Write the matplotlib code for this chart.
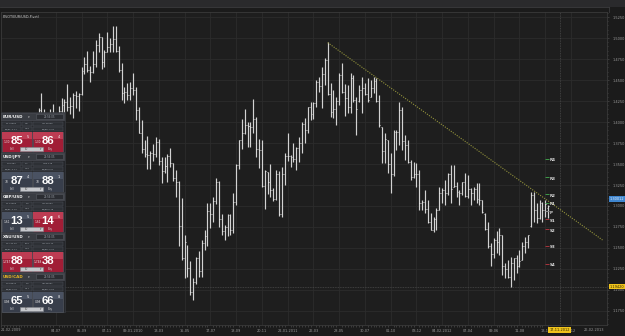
import matplotlib
matplotlib.use("Agg")
import matplotlib.pyplot as plt
import matplotlib.dates as mdates
import matplotlib.transforms as mtransforms
from matplotlib.patches import Rectangle
from matplotlib.ticker import MultipleLocator
import pandas as pd

W, H = 625, 336

# weekly EUR/USD bars (open, high, low, close); weeks are labelled by their Saturday
first_week = "2009-02-21"
ohlc_2009 = [
    (1.2650, 1.2840, 1.2640, 1.2670), (1.2670, 1.2720, 1.2460, 1.2660), (1.2660, 1.3040, 1.2660, 1.2940),
    (1.2940, 1.3740, 1.2880, 1.3580), (1.3580, 1.3740, 1.3250, 1.3280), (1.3280, 1.3560, 1.3110, 1.3500),
    (1.3500, 1.3500, 1.3120, 1.3200), (1.3200, 1.3370, 1.3000, 1.3030), (1.3030, 1.3280, 1.2890, 1.3250),
    (1.3250, 1.3400, 1.3050, 1.3270), (1.3270, 1.3650, 1.3210, 1.3630), (1.3630, 1.3740, 1.3480, 1.3500),
    (1.3500, 1.4050, 1.3460, 1.3990), (1.3990, 1.4170, 1.3810, 1.4140), (1.4140, 1.4340, 1.3990, 1.4040),
    (1.4040, 1.4150, 1.3750, 1.3990), (1.3990, 1.4050, 1.3780, 1.4000), (1.4000, 1.4150, 1.3840, 1.4040),
    (1.4040, 1.4210, 1.3920, 1.3960), (1.3960, 1.4070, 1.3840, 1.3940), (1.3940, 1.4190, 1.3850, 1.4130),
    (1.4130, 1.4290, 1.4110, 1.4200), (1.4200, 1.4270, 1.4010, 1.4240), (1.4240, 1.4450, 1.4130, 1.4180),
    (1.4180, 1.4300, 1.4100, 1.4190), (1.4190, 1.4340, 1.4050, 1.4320), (1.4320, 1.4370, 1.4170, 1.4310),
    (1.4310, 1.4350, 1.4130, 1.4330), (1.4330, 1.4650, 1.4320, 1.4610), (1.4610, 1.4780, 1.4570, 1.4690),
    (1.4690, 1.4840, 1.4590, 1.4620), (1.4620, 1.4670, 1.4480, 1.4590), (1.4590, 1.4840, 1.4580, 1.4690),
    (1.4690, 1.4980, 1.4660, 1.4920), (1.4920, 1.5060, 1.4830, 1.5010), (1.5010, 1.5010, 1.4630, 1.4710),
    (1.4710, 1.4860, 1.4650, 1.4830), (1.4830, 1.5070, 1.4830, 1.4890), (1.4890, 1.5000, 1.4830, 1.4930),
    (1.4930, 1.5145, 1.4830, 1.4990), (1.4990, 1.5144, 1.4830, 1.4850), (1.4850, 1.4900, 1.4595, 1.4620),
    (1.4620, 1.4700, 1.4260, 1.4340), (1.4340, 1.4420, 1.4225, 1.4360), (1.4360, 1.4465, 1.4260, 1.4320),
]
ohlc_2010 = [
    (1.4320, 1.4475, 1.4260, 1.4410), (1.4410, 1.4585, 1.4320, 1.4380), (1.4380, 1.4420, 1.4025, 1.4140),
    (1.4140, 1.4180, 1.3870, 1.3870), (1.3870, 1.4025, 1.3630, 1.3680), (1.3680, 1.3790, 1.3580, 1.3620),
    (1.3620, 1.3830, 1.3440, 1.3610), (1.3610, 1.3650, 1.3440, 1.3630), (1.3630, 1.3740, 1.3530, 1.3620),
    (1.3620, 1.3820, 1.3580, 1.3760), (1.3760, 1.3800, 1.3490, 1.3530), (1.3530, 1.3580, 1.3270, 1.3420),
    (1.3420, 1.3580, 1.3390, 1.3480), (1.3480, 1.3620, 1.3290, 1.3600), (1.3600, 1.3690, 1.3460, 1.3510),
    (1.3510, 1.3510, 1.3300, 1.3330), (1.3330, 1.3430, 1.3110, 1.3290), (1.3290, 1.3300, 1.2520, 1.2760),
    (1.2760, 1.3090, 1.2360, 1.2380), (1.2380, 1.2660, 1.2140, 1.2570), (1.2490, 1.2530, 1.2150, 1.2260),
    (1.2260, 1.2340, 1.1940, 1.1970), (1.1970, 1.2140, 1.1876, 1.2100), (1.2100, 1.2390, 1.2070, 1.2380),
    (1.2380, 1.2460, 1.2150, 1.2230), (1.2230, 1.2600, 1.2150, 1.2560), (1.2560, 1.2720, 1.2480, 1.2640),
    (1.2640, 1.3030, 1.2520, 1.2940), (1.2940, 1.3040, 1.2740, 1.2900), (1.2900, 1.3110, 1.2810, 1.3060),
    (1.3060, 1.3330, 1.3020, 1.3280), (1.3280, 1.3300, 1.2750, 1.2840), (1.2840, 1.2910, 1.2660, 1.2700),
    (1.2700, 1.2770, 1.2600, 1.2750), (1.2750, 1.2900, 1.2640, 1.2890), (1.2890, 1.2910, 1.2660, 1.2710),
    (1.2710, 1.3160, 1.2680, 1.3050), (1.3050, 1.3500, 1.3010, 1.3490), (1.3490, 1.3790, 1.3440, 1.3780),
    (1.3780, 1.4030, 1.3680, 1.3870), (1.3870, 1.4160, 1.3860, 1.3970), (1.3970, 1.4000, 1.3700, 1.3950),
    (1.3950, 1.4000, 1.3700, 1.3940), (1.3940, 1.4280, 1.3870, 1.4030), (1.4030, 1.4060, 1.3580, 1.3680),
    (1.3680, 1.3800, 1.3450, 1.3670), (1.3670, 1.3780, 1.3230, 1.3240), (1.3240, 1.3430, 1.2970, 1.3420),
    (1.3400, 1.3400, 1.3140, 1.3290), (1.3290, 1.3500, 1.3110, 1.3190), (1.3190, 1.3220, 1.3060, 1.3080),
    (1.3080, 1.3430, 1.3070, 1.3380),
]
ohlc_2011 = [
    (1.3380, 1.3420, 1.2880, 1.2910), (1.2910, 1.3460, 1.2870, 1.3380), (1.3380, 1.3630, 1.3250, 1.3600),
    (1.3600, 1.3870, 1.3530, 1.3590), (1.3590, 1.3610, 1.3460, 1.3580), (1.3580, 1.3750, 1.3520, 1.3560),
    (1.3560, 1.3700, 1.3430, 1.3690), (1.3690, 1.3820, 1.3520, 1.3750), (1.3750, 1.4000, 1.3630, 1.3980),
    (1.3980, 1.4050, 1.3750, 1.3910), (1.3910, 1.4180, 1.3870, 1.4180), (1.4180, 1.4240, 1.4020, 1.4090),
    (1.4090, 1.4240, 1.4030, 1.4230), (1.4230, 1.4500, 1.4180, 1.4480), (1.4480, 1.4540, 1.4360, 1.4430),
    (1.4430, 1.4650, 1.4170, 1.4570), (1.4570, 1.4760, 1.4440, 1.4740), (1.4740, 1.4950, 1.4320, 1.4330),
    (1.4330, 1.4460, 1.4060, 1.4120), (1.4120, 1.4380, 1.4050, 1.4150), (1.4150, 1.4300, 1.3970, 1.4250),
    (1.4250, 1.4580, 1.4200, 1.4560), (1.4560, 1.4700, 1.4350, 1.4360), (1.4360, 1.4450, 1.4070, 1.4290),
    (1.4290, 1.4440, 1.4110, 1.4180), (1.4180, 1.4580, 1.4110, 1.4520), (1.4520, 1.4560, 1.4240, 1.4260),
    (1.4260, 1.4300, 1.3850, 1.4150), (1.4250, 1.4440, 1.4240, 1.4380), (1.4380, 1.4540, 1.4110, 1.4400),
    (1.4400, 1.4460, 1.4320, 1.4330), (1.4330, 1.4520, 1.4240, 1.4260), (1.4300, 1.4500, 1.4300, 1.4400),
    (1.4400, 1.4540, 1.4350, 1.4490), (1.4490, 1.4520, 1.4240, 1.4250), (1.4250, 1.4320, 1.3940, 1.3960),
    (1.3940, 1.3940, 1.3512, 1.3650), (1.3650, 1.3870, 1.3510, 1.3800), (1.3780, 1.3790, 1.3390, 1.3500),
    (1.3500, 1.3630, 1.3155, 1.3380), (1.3380, 1.3905, 1.3360, 1.3880), (1.3880, 1.3905, 1.3667, 1.3880),
    (1.3880, 1.4238, 1.3726, 1.4140), (1.4140, 1.4179, 1.3667, 1.3770), (1.3770, 1.3845, 1.3548, 1.3730),
    (1.3730, 1.3786, 1.3512, 1.3520), (1.3520, 1.3548, 1.3310, 1.3340), (1.3340, 1.3524, 1.3333, 1.3380),
    (1.3380, 1.3512, 1.3226, 1.3380), (1.3380, 1.3429, 1.2952, 1.3040), (1.3040, 1.3071, 1.2952, 1.3050),
    (1.3050, 1.3190, 1.2917, 1.2960),
]
ohlc_2012 = [
    (1.2960, 1.3071, 1.2798, 1.2810), (1.2810, 1.2917, 1.2714, 1.2720), (1.2720, 1.2869, 1.2690, 1.2840),
    (1.2840, 1.2976, 1.2714, 1.2950), (1.2950, 1.3226, 1.2952, 1.3150), (1.3150, 1.3214, 1.3036, 1.3190),
    (1.3190, 1.3310, 1.3012, 1.3150), (1.3150, 1.3393, 1.3131, 1.3380), (1.3380, 1.3488, 1.3036, 1.3200),
    (1.3230, 1.3488, 1.3226, 1.3240), (1.3240, 1.3286, 1.3107, 1.3170), (1.3170, 1.3190, 1.3012, 1.3150),
    (1.3150, 1.3286, 1.3131, 1.3280), (1.3280, 1.3393, 1.3107, 1.3120), (1.3120, 1.3369, 1.3095, 1.3200),
    (1.3200, 1.3214, 1.3012, 1.3150), (1.3150, 1.3226, 1.3071, 1.3200), (1.3200, 1.3274, 1.3036, 1.3080),
    (1.3080, 1.3274, 1.3012, 1.3070), (1.3070, 1.3071, 1.2917, 1.2930), (1.2910, 1.2917, 1.2714, 1.2730),
    (1.2730, 1.2810, 1.2500, 1.2520), (1.2520, 1.2560, 1.2290, 1.2430), (1.2430, 1.2620, 1.2380, 1.2590),
    (1.2590, 1.2700, 1.2440, 1.2570), (1.2570, 1.2740, 1.2420, 1.2660), (1.2650, 1.2655, 1.2179, 1.2290),
    (1.2290, 1.2321, 1.2143, 1.2250), (1.2250, 1.2357, 1.2143, 1.2160), (1.2160, 1.2393, 1.2036, 1.2320),
    (1.2320, 1.2381, 1.2119, 1.2380), (1.2380, 1.2417, 1.2202, 1.2290), (1.2290, 1.2476, 1.2274, 1.2340),
    (1.2360, 1.2571, 1.2357, 1.2520), (1.2520, 1.2631, 1.2440, 1.2570), (1.2570, 1.2655, 1.2500, 1.2650),
    (1.2760, 1.3167, 1.2750, 1.3130), (1.3130, 1.3167, 1.2810, 1.2950), (1.2950, 1.3036, 1.2798, 1.2860),
    (1.2860, 1.3071, 1.2850, 1.3030), (1.3030, 1.3048, 1.2810, 1.2950), (1.2950, 1.3071, 1.2869, 1.3020),
    (1.2980, 1.3010, 1.2857, 1.3001),
]

tick_dates = ["2009-07-04", "2009-09-05", "2009-11-07", "2010-01-09", "2010-03-13", "2010-05-15",
              "2010-07-17", "2010-09-18", "2010-11-20", "2011-01-22", "2011-03-26", "2011-05-28",
              "2011-07-30", "2011-10-01", "2011-12-03", "2012-02-04", "2012-04-07", "2012-06-09",
              "2012-08-11", "2012-10-13", "2012-12-15"]
tick_labels = ["04-07", "05-09", "07-11", "09-01-2010", "13-03", "15-05", "17-07", "18-09", "20-11",
               "22-01-2011", "26-03", "28-05", "30-07", "01-10", "03-12", "04-02-2012", "07-04",
               "09-06", "11-08", "13-10", "15-12"]
edge_labels = ["21-02-2009", "26-02-2013"]
x_range = ["2009-02-20", "2013-03-13"]

price_ticks = [1.1750, 1.2000, 1.2250, 1.2500, 1.2750, 1.3000, 1.3250, 1.3500,
               1.3750, 1.4000, 1.4250, 1.4500, 1.4750, 1.5000, 1.5250]
price_range = [1.1583, 1.5310]

pivot_names = ["R4", "R3", "R2", "R1", "P", "S1", "S2", "S3", "S4"]
pivot_levels = [1.3560, 1.3345, 1.3143, 1.3036, 1.2940, 1.2845, 1.2726, 1.2524, 1.2310]

trend_dates = ["2011-04-30", "2013-03-02"]
trend_prices = [1.4945, 1.2595]

cursor_date = "2012-11-17"
cursor_date_label = "17-11-2012"
cursor_price = 1.2040
cursor_price_label = "1.19420"
quote_marker = 1.3084
quote_marker_label = "1.30012"

# dealing widgets on the left
pairs = ["EUR/USD", "USD/JPY", "GBP/USD", "XAU/USD", "USD/CAD"]
pair_colors = ["#f0f0f0", "#f0f0f0", "#f0f0f0", "#f0f0f0", "#e6b422"]
clock = ["21:56:05", "21:56:05", "21:56:05", "21:56:05", "21:56:05"]
info_top = [("L:1.30554", "0.9", "H:1.31009"), ("L:78.687", "0.7", "H:79.218"),
            ("L:1.60658", "1.0", "H:1.61094"), ("L:1,740.60", "50.0", "H:1,749.12"),
            ("L:0.98575", "1.0", "H:0.98697")]
info_bot = [("Ro/Bs:-0.21", "0.16", "Ro/Bb:-0.24"), ("Ro/Bs:-0.21", "0.07", "Ro/Bb:0.07"),
            ("Ro/Bs:-0.36", "0.16", "Ro/Bb:0.18"), ("Ro/Bs:-0.41", "0.01", "Ro/Bb:-0.02"),
            ("Ro/Bs:0.30", "0.17", "Ro/Bb:-0.56")]
sell_prefix = ["1.30", "78", "1.61", "1,747", "0.98"]
sell_big = ["85", "87", "13", "88", "65"]
sell_sup = ["5", "4", "5", "", "5"]
sell_red = [True, False, False, True, False]
buy_prefix = ["1.30", "78", "1.61", "1,748", "0.98"]
buy_big = ["86", "88", "14", "38", "66"]
buy_sup = ["4", "1", "6", "", "8"]
buy_red = [True, False, True, True, False]
lot_size = "10"

BG = "#1e1e1e"
GRID = "#2c2c2c"
TXT = "#9b9b9b"

fig = plt.figure(figsize=(W / 100, H / 100), dpi=100, facecolor="#1b1b1b")
ax = fig.add_axes([1 / W, 11 / H, 606 / W, 313 / H], facecolor=BG)

bars = pd.DataFrame(ohlc_2009 + ohlc_2010 + ohlc_2011 + ohlc_2012,
                    columns=["open", "high", "low", "close"])
bars["date"] = pd.date_range(first_week, periods=len(bars), freq="7D")
xb = mdates.date2num(bars["date"])
bar_col = "#d2d2d2"
ax.vlines(xb, bars["low"], bars["high"], color=bar_col, lw=0.85, zorder=3)
ax.hlines(bars["open"], xb - 2.3, xb, color=bar_col, lw=0.6, zorder=3)
ax.hlines(bars["close"], xb, xb + 2.3, color="#f0f0f0", lw=0.6, zorder=3)

# trend line
tx = mdates.date2num(pd.to_datetime(trend_dates))
ax.plot(tx, trend_prices, color="#94943c", lw=0.8, ls=(0, (1, 1.2)), zorder=4)

# pivot levels
p0 = xb[-2]
for name, lev in zip(pivot_names, pivot_levels):
    c = "#3f9a48" if name.startswith("R") else ("#a8343c" if name.startswith("S") else "#8a8a8a")
    ax.hlines(lev, p0, p0 + 8, color=c, lw=0.7, zorder=4)
    ax.text(p0 + 10, lev - 0.0018, name, color="#dcdcdc", fontsize=2.9, fontweight="bold",
            ha="left", va="center", zorder=5)

# crosshair
cx = mdates.date2num(pd.Timestamp(cursor_date))
ax.axvline(cx, color="#4a4a4a", lw=0.6, ls=(0, (1, 1)), zorder=2)
ax.axhline(cursor_price, color="#4a4a4a", lw=0.6, ls=(0, (1, 1)), zorder=2)

ax.set_xlim(mdates.date2num(pd.to_datetime(x_range)))
ax.set_ylim(price_range)

ax.set_xticks(mdates.date2num(pd.to_datetime(tick_dates)))
ax.set_xticklabels(tick_labels)
ax.set_xticks(xb, minor=True)
ax.tick_params(axis="x", which="major", length=0, pad=3.2, labelsize=2.5, colors=TXT)
ax.tick_params(axis="x", which="minor", length=1.3, width=0.4, color="#555555")

ax.yaxis.tick_right()
ax.set_yticks(price_ticks)
ax.set_yticklabels([f"{p:.4f}" for p in price_ticks])
ax.yaxis.set_minor_locator(MultipleLocator(0.005))
ax.tick_params(axis="y", which="major", length=1.6, width=0.4, color="#555555",
               pad=2.2, labelsize=2.5, colors=TXT)
ax.tick_params(axis="y", which="minor", length=1.0, width=0.4, color="#555555")
for lab in ax.get_yticklabels():
    lab.set_color(TXT)
for lab in ax.get_xticklabels():
    lab.set_color(TXT)

ax.grid(True, which="major", color=GRID, lw=0.6)
ax.set_axisbelow(True)
for s in ax.spines.values():
    s.set_color("#3a3a3a")
    s.set_linewidth(0.6)

ax.text(0.0, -0.0095, edge_labels[0], transform=ax.transAxes, ha="left", va="top",
        fontsize=2.5, color=TXT)
ax.text(0.995, -0.0095, edge_labels[1], transform=ax.transAxes, ha="right", va="top",
        fontsize=2.5, color=TXT)

ax.text(0.003, 0.992, "PIVOT(EUR/USD,Pivot)", transform=ax.transAxes, ha="left", va="top",
        fontsize=2.4, color="#cfcfcf", zorder=6)

yblend = mtransforms.blended_transform_factory(ax.transAxes, ax.transData)
xblend = mtransforms.blended_transform_factory(ax.transData, ax.transAxes)
ax.text(1.004, quote_marker, quote_marker_label, transform=yblend, ha="left", va="center",
        fontsize=2.5, color="#e8f0fa", zorder=7, clip_on=False,
        bbox=dict(boxstyle="square,pad=0.25", fc="#3f86d0", ec="none"))
ax.text(1.004, cursor_price, cursor_price_label, transform=yblend, ha="left", va="center",
        fontsize=2.5, color="#2a2200", zorder=7, clip_on=False,
        bbox=dict(boxstyle="square,pad=0.25", fc="#efc31c", ec="none"))
ax.text(cx, -0.0085, cursor_date_label, transform=xblend, ha="center", va="top",
        fontsize=2.5, color="#2a2200", zorder=7, clip_on=False,
        bbox=dict(boxstyle="square,pad=0.25", fc="#efc31c", ec="none"))

# overlay in pixel coordinates for window chrome and widgets
ov = fig.add_axes([0, 0, 1, 1], zorder=10)
ov.set_xlim(0, W)
ov.set_ylim(H, 0)
ov.axis("off")
ov.patch.set_alpha(0)

ov.add_patch(Rectangle((0, 0), W, 7, fc="#2a2a2c", ec="none"))
ov.plot([0, 609], [7.3, 7.3], color="#3c3c3e", lw=0.6)
ov.plot([609, 609], [7.3, 12], color="#3c3c3e", lw=0.6)

panel_top, panel_step = 113, 40
cells = [(2, 19), (22, 10), (33, 30)]


def button(bx, top, red, prefix, big, sup, caption, cap_x):
    fc = "#a11d36" if red else "#383e4b"
    hi = "#bd3c53" if red else "#4a5262"
    ov.add_patch(Rectangle((bx, top), 30, 20, fc=fc, ec="#5a5e66", lw=0.4))
    ov.add_patch(Rectangle((bx + 0.4, top + 0.4), 29.2, 7, fc=hi, ec="none"))
    ov.text(bx + 4.5, top + 9.6, prefix, fontsize=2.1, color="#e6e6e6", ha="center", va="center")
    ov.text(bx + 15, top + 9, big, fontsize=8.2, color="white", fontweight="bold",
            family="Liberation Sans", ha="center", va="center")
    if sup:
        ov.text(bx + 25.5, top + 5.3, sup, fontsize=2.6, color="#f0f0f0", ha="center", va="center")
    ov.text(cap_x, top + 17.2, caption, fontsize=1.9, color="#d0d0d0", ha="center", va="center")


for k in range(len(pairs)):
    h0 = panel_top + k * panel_step
    ov.add_patch(Rectangle((0.5, h0 - 1.5), 64.5, panel_step, fc="#25272b", ec="#3d4046", lw=0.4))
    ov.add_patch(Rectangle((1, h0), 63, 7, fc="#393c42", ec="#50535a", lw=0.4))
    ov.text(2.5, h0 + 3.7, pairs[k], color=pair_colors[k], fontsize=3.0, fontweight="bold",
            ha="left", va="center")
    ov.text(29, h0 + 3.7, "\u25be", color="#c8c8c8", fontsize=2.4, ha="center", va="center")
    ov.add_patch(Rectangle((36, h0 + 1), 27, 5, fc="#2b2d32", ec="#585b62", lw=0.4))
    ov.text(49.5, h0 + 3.6, clock[k], fontsize=1.9, color="#9aa0a8", ha="center", va="center")
    for r, row in enumerate((info_top[k], info_bot[k])):
        yy = h0 + 8.6 + r * 5
        for (cx0, cw), txt in zip(cells, row):
            ov.add_patch(Rectangle((cx0, yy), cw, 4.3, fc="#2d3035", ec="#4b4f56", lw=0.35))
            ov.text(cx0 + cw / 2, yy + 2.2, txt, fontsize=1.6, color="#aab0b8",
                    ha="center", va="center")
    button(2, h0 + 19, sell_red[k], sell_prefix[k], sell_big[k], sell_sup[k], "Sell", 12)
    button(33, h0 + 19, buy_red[k], buy_prefix[k], buy_big[k], buy_sup[k], "Buy", 50)
    ov.add_patch(Rectangle((20, h0 + 33.5), 23, 4.8, fc="#c6c8cc", ec="#85888d", lw=0.4))
    ov.text(26, h0 + 36, lot_size, fontsize=1.9, color="#555555", ha="center", va="center")
    ov.text(40.5, h0 + 36, "\u25be", fontsize=2.0, color="#444444", ha="center", va="center")

fig.savefig("out.png", dpi=100, facecolor=fig.get_facecolor())
